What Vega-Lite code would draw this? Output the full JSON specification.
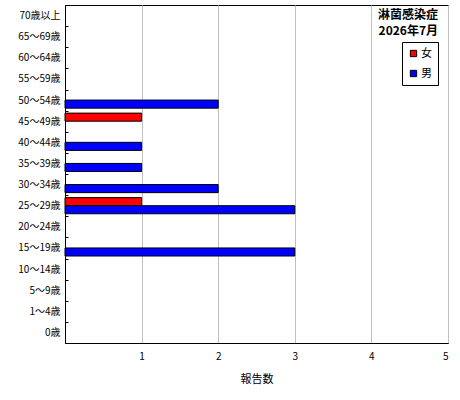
{
  "$schema": "https://vega.github.io/schema/vega-lite/v6.json",
  "description": "淋菌感染症 年齢階級別報告数 2026年7月",
  "autosize": {"type": "none"},
  "padding": {"left": 65, "top": 5, "right": 12, "bottom": 57},
  "width": 383,
  "height": 338,
  "title": {
    "text": ["淋菌感染症", "2026年7月"],
    "anchor": "end",
    "frame": "group",
    "orient": "top",
    "offset": -38,
    "dx": -10,
    "align": "right",
    "fontSize": 12,
    "fontWeight": "bold",
    "lineHeight": 16,
    "font": "Noto Sans CJK JP",
    "color": "#000000"
  },
  "data": {
    "values": [
      {"age": "50～54歳", "sex": "男", "count": 2},
      {"age": "45～49歳", "sex": "女", "count": 1},
      {"age": "40～44歳", "sex": "男", "count": 1},
      {"age": "35～39歳", "sex": "男", "count": 1},
      {"age": "30～34歳", "sex": "男", "count": 2},
      {"age": "25～29歳", "sex": "女", "count": 1},
      {"age": "25～29歳", "sex": "男", "count": 3},
      {"age": "15～19歳", "sex": "男", "count": 3}
    ]
  },
  "mark": {"type": "bar", "stroke": "#000000", "strokeWidth": 1},
  "encoding": {
    "y": {
      "field": "age",
      "type": "nominal",
      "scale": {
        "domain": ["70歳以上", "65～69歳", "60～64歳", "55～59歳", "50～54歳", "45～49歳", "40～44歳", "35～39歳", "30～34歳", "25～29歳", "20～24歳", "15～19歳", "10～14歳", "5～9歳", "1～4歳", "0歳"],
        "padding": 0
      },
      "axis": {
        "title": null,
        "tickBand": "extent",
        "tickSize": -3,
        "tickColor": "#000000",
        "domainColor": "#000000",
        "labelPadding": 8,
        "labelFontSize": 10,
        "labelFont": "Noto Sans CJK JP",
        "labelColor": "#000000"
      }
    },
    "yOffset": {
      "field": "sex",
      "type": "nominal",
      "scale": {"domain": ["女", "男"], "paddingInner": 0, "paddingOuter": 0.31}
    },
    "x": {
      "field": "count",
      "type": "quantitative",
      "scale": {"domain": [0, 5], "nice": false},
      "axis": {
        "title": "報告数",
        "values": [0, 1, 2, 3, 4, 5],
        "labelExpr": "datum.value == 0 ? '' : datum.label",
        "ticks": false,
        "grid": true,
        "gridColor": "#c0c0c0",
        "gridWidth": 1,
        "domainColor": "#000000",
        "labelPadding": 8,
        "labelFontSize": 10,
        "labelFont": "Noto Sans CJK JP",
        "labelColor": "#000000",
        "titleFontSize": 11,
        "titleFontWeight": "normal",
        "titleFont": "Noto Sans CJK JP",
        "titleColor": "#000000",
        "titlePadding": 12
      }
    },
    "color": {
      "field": "sex",
      "type": "nominal",
      "scale": {"domain": ["女", "男"], "range": ["#ff0000", "#0000ff"]},
      "legend": {
        "title": null,
        "orient": "none",
        "legendX": 337,
        "legendY": 37,
        "symbolType": "square",
        "symbolSize": 40,
        "symbolStrokeColor": "#000000",
        "symbolStrokeWidth": 1,
        "labelFont": "Noto Sans CJK JP",
        "labelFontSize": 11,
        "labelColor": "#000000",
        "labelOffset": 2,
        "rowPadding": 8,
        "padding": 6,
        "strokeColor": "#000000",
        "fillColor": "#ffffff"
      }
    }
  },
  "config": {
    "view": {"stroke": "#000000", "strokeWidth": 1},
    "axis": {"domainWidth": 1}
  }
}
